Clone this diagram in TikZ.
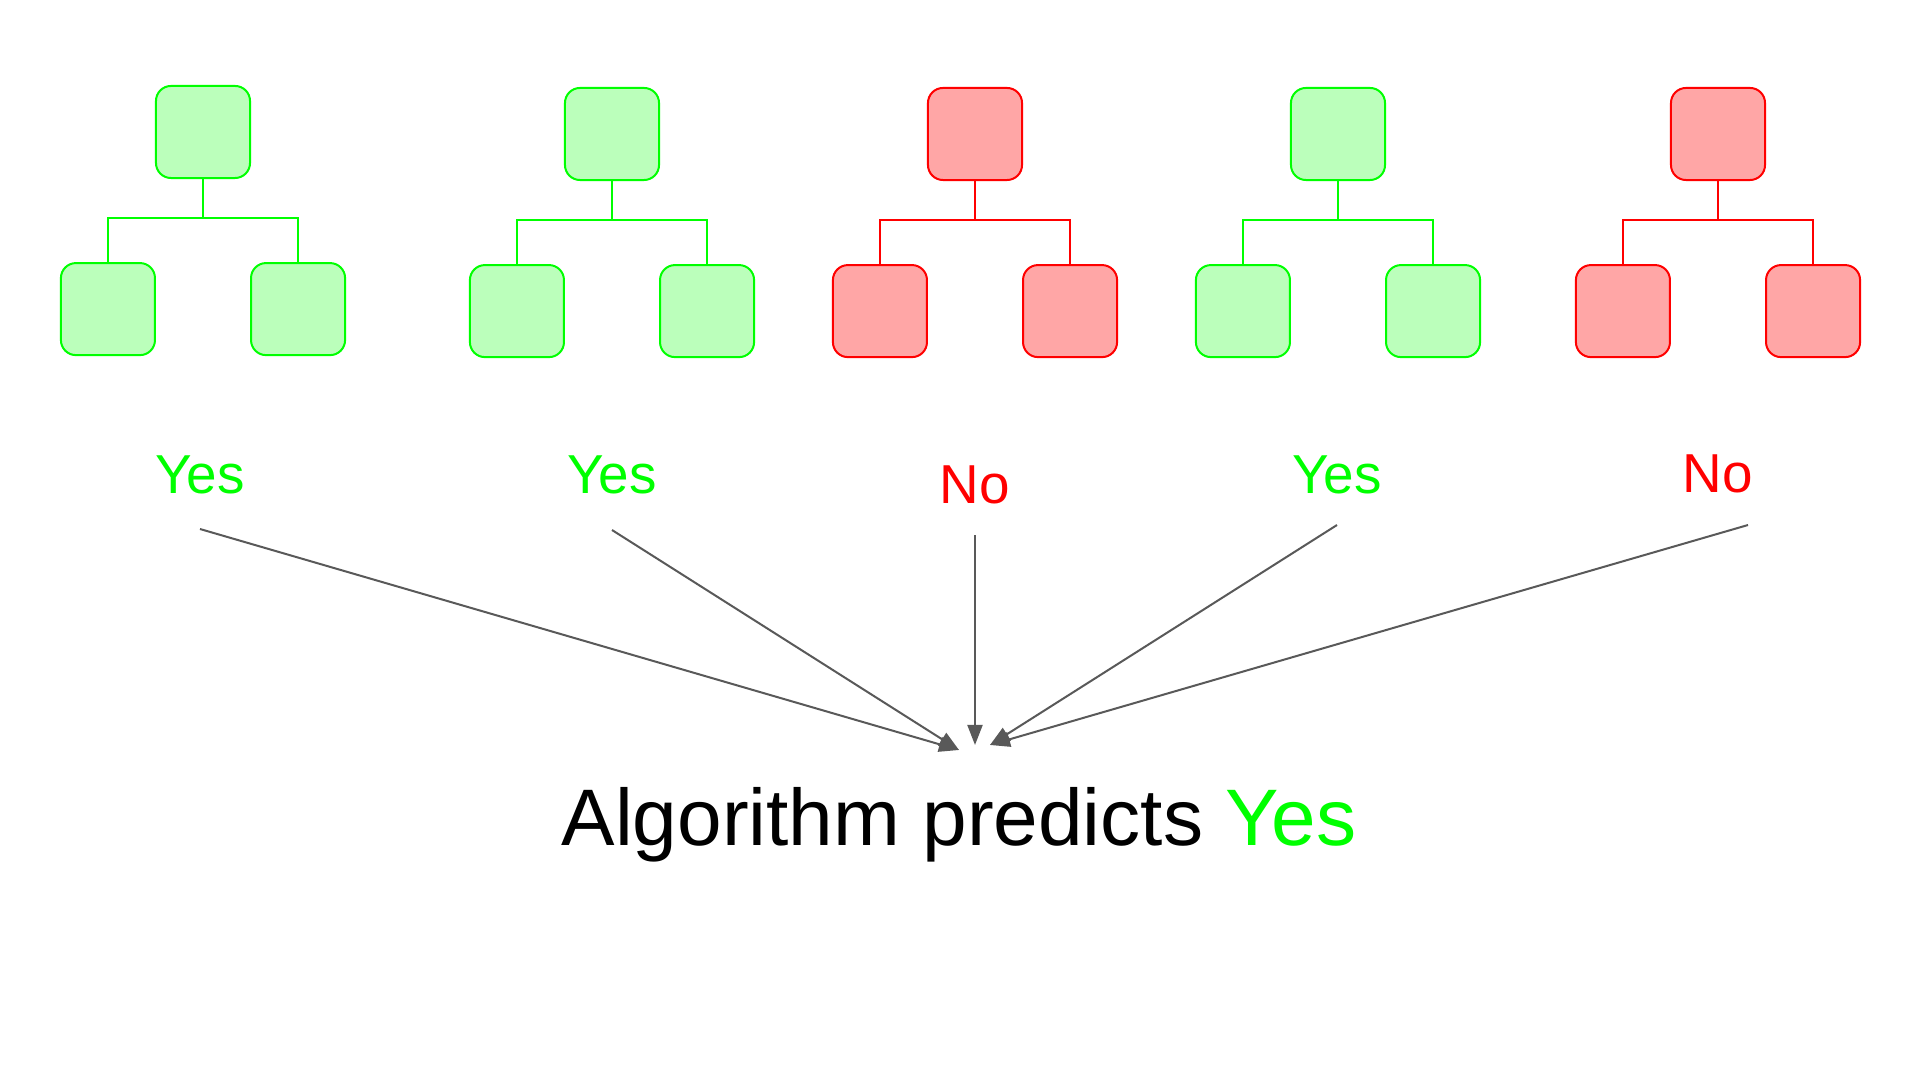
\documentclass[tikz,border=0pt]{standalone}
\usepackage{fontspec}
\setmainfont{Liberation Sans}
\usetikzlibrary{arrows.meta, positioning}

\definecolor{yesgreen}{RGB}{0, 255, 0}
\definecolor{yesfill}{RGB}{187, 255, 187}
\definecolor{nored}{RGB}{255, 0, 0}
\definecolor{nofill}{RGB}{255, 166, 166}
\definecolor{votegray}{RGB}{89, 89, 89}

\begin{document}
\begin{tikzpicture}[x=0.01cm, y=-0.01cm,
    leaf/.style={rectangle, rounded corners=0.15cm, minimum width=0.94cm,
                 minimum height=0.92cm, line width=0.02cm, inner sep=0pt},
    yesbox/.style={leaf, draw=yesgreen, fill=yesfill},
    nobox/.style={leaf, draw=nored, fill=nofill},
    yesedge/.style={draw=yesgreen, line width=0.02cm},
    noedge/.style={draw=nored, line width=0.02cm},
    vote/.style={anchor=base, inner sep=0pt, font=\fontsize{15.6}{18}\selectfont},
    arrow/.style={-{Triangle[length=0.2cm, width=0.15cm]}, line width=0.02cm, votegray}
  ]
    \useasboundingbox (0,0) rectangle (1920,1080);

    % five trees
    \node[yesbox] (t1) at (203,132) {};
    \node[yesbox, below=0.83cm of t1, xshift=-0.95cm] (t1l) {};
    \node[yesbox, below=0.83cm of t1, xshift=0.95cm] (t1r) {};
    \coordinate[below=0.39cm of t1] (t1j);

    \node[yesbox] (t2) at (612,134) {};
    \node[yesbox, below=0.83cm of t2, xshift=-0.95cm] (t2l) {};
    \node[yesbox, below=0.83cm of t2, xshift=0.95cm] (t2r) {};
    \coordinate[below=0.39cm of t2] (t2j);

    \node[nobox] (t3) at (975,134) {};
    \node[nobox, below=0.83cm of t3, xshift=-0.95cm] (t3l) {};
    \node[nobox, below=0.83cm of t3, xshift=0.95cm] (t3r) {};
    \coordinate[below=0.39cm of t3] (t3j);

    \node[yesbox] (t4) at (1338,134) {};
    \node[yesbox, below=0.83cm of t4, xshift=-0.95cm] (t4l) {};
    \node[yesbox, below=0.83cm of t4, xshift=0.95cm] (t4r) {};
    \coordinate[below=0.39cm of t4] (t4j);

    \node[nobox] (t5) at (1718,134) {};
    \node[nobox, below=0.83cm of t5, xshift=-0.95cm] (t5l) {};
    \node[nobox, below=0.83cm of t5, xshift=0.95cm] (t5r) {};
    \coordinate[below=0.39cm of t5] (t5j);

    \draw[yesedge] (t1) -- (t1j) -| (t1l);
    \draw[yesedge] (t1j) -| (t1r);
    \draw[yesedge] (t2) -- (t2j) -| (t2l);
    \draw[yesedge] (t2j) -| (t2r);
    \draw[noedge] (t3) -- (t3j) -| (t3l);
    \draw[noedge] (t3j) -| (t3r);
    \draw[yesedge] (t4) -- (t4j) -| (t4l);
    \draw[yesedge] (t4j) -| (t4r);
    \draw[noedge] (t5) -- (t5j) -| (t5l);
    \draw[noedge] (t5j) -| (t5r);

    % votes
    \node[vote, text=yesgreen] (v1) at (200,494) {Yes};
    \node[vote, text=yesgreen] (v2) at (612,494) {Yes};
    \node[vote, text=nored] (v3) at (975,504) {No};
    \node[vote, text=yesgreen] (v4) at (1337,494) {Yes};
    \node[vote, text=nored] (v5) at (1718,493) {No};

    \node[anchor=base, inner sep=0pt, font=\fontsize{22.8}{27}\selectfont] (pred) at (959,846)
      {Algorithm predicts \textcolor{yesgreen}{Yes}};

    \coordinate (tipl) at (959,750);
    \coordinate (tipm) at (975,745);
    \coordinate (tipr) at (990,745);

    \draw[arrow] ([yshift=-0.35cm]v1.base) -- (tipl);
    \draw[arrow] ([yshift=-0.36cm]v2.base) -- (tipl);
    \draw[arrow] ([yshift=-0.31cm]v3.base) -- (tipm);
    \draw[arrow] ([yshift=-0.31cm]v4.base) -- (tipr);
    \draw[arrow] ([xshift=0.3cm, yshift=-0.32cm]v5.base) -- (tipr);
  \end{tikzpicture}
\end{document}
